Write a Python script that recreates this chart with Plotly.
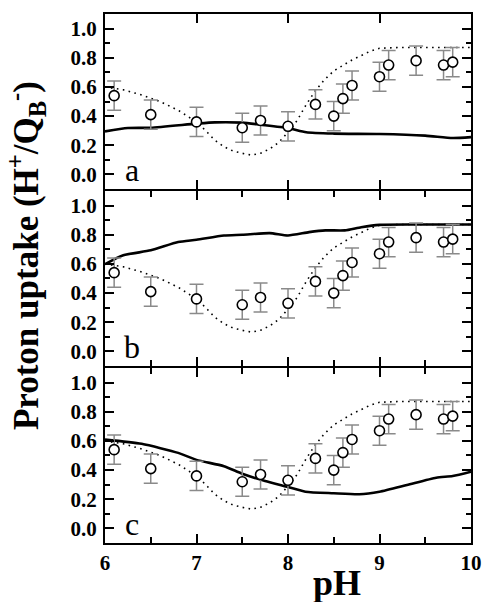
import plotly.graph_objects as go
from plotly.subplots import make_subplots

# Experimental data (same in all panels)
ph_exp = [6.1, 6.5, 7.0, 7.5, 7.7, 8.0, 8.3, 8.5, 8.6, 8.7, 9.0, 9.1, 9.4, 9.7, 9.8]
uptake_exp = [0.54, 0.41, 0.36, 0.32, 0.37, 0.33, 0.48, 0.40, 0.52, 0.61, 0.67, 0.75, 0.78, 0.75, 0.77]
uptake_err = [0.1] * len(ph_exp)

# Dotted curve (same in all panels)
ph_dot = [6.0, 6.2, 6.4, 6.6, 6.8, 7.0, 7.1, 7.2, 7.3, 7.4, 7.5, 7.6, 7.7, 7.8, 7.9,
          8.0, 8.1, 8.2, 8.3, 8.4, 8.5, 8.6, 8.7, 8.8, 8.9, 9.0, 9.2, 9.5, 10.0]
uptake_dot = [0.60, 0.58, 0.545, 0.50, 0.44, 0.36, 0.30, 0.235, 0.19, 0.16, 0.145, 0.132,
              0.145, 0.175, 0.22, 0.29, 0.37, 0.48, 0.575, 0.65, 0.71, 0.75, 0.785,
              0.815, 0.845, 0.865, 0.87, 0.87, 0.87]

# Solid curves
ph_a = [6.0, 6.25, 6.5, 7.0, 7.2, 7.5, 7.7, 8.0, 8.2, 8.5, 9.0, 9.5, 9.8, 10.0]
uptake_a = [0.295, 0.318, 0.32, 0.348, 0.357, 0.355, 0.341, 0.318, 0.289, 0.28, 0.277, 0.266, 0.25, 0.256]

ph_b = [6.0, 6.2, 6.5, 6.8, 7.0, 7.3, 7.5, 7.8, 8.0, 8.23, 8.41, 8.62, 8.8, 9.0, 9.5, 10.0]
uptake_b = [0.598, 0.659, 0.693, 0.75, 0.766, 0.795, 0.80, 0.811, 0.795, 0.818, 0.83, 0.83, 0.852, 0.868, 0.87, 0.87]

ph_c = [6.0, 6.4, 6.8, 7.0, 7.3, 7.5, 7.75, 8.0, 8.19, 8.5, 8.78, 9.0, 9.3, 9.62, 9.8, 10.0]
uptake_c = [0.609, 0.58, 0.518, 0.47, 0.427, 0.375, 0.325, 0.284, 0.252, 0.241, 0.234, 0.252, 0.298, 0.348, 0.359, 0.389]

panel_labels = ["a", "b", "c"]
solid_x = [ph_a, ph_b, ph_c]
solid_y = [uptake_a, uptake_b, uptake_c]

y_ticks = [0.0, 0.2, 0.4, 0.6, 0.8, 1.0]
y_ticktext = ["0.0", "0.2", "0.4", "0.6", "0.8", "1.0"]
x_ticks = [6, 7, 8, 9, 10]

SERIF = "Liberation Serif, Times New Roman, serif"

fig = make_subplots(rows=3, cols=1, shared_xaxes=True, vertical_spacing=2.0 / 530)

for i in range(3):
    r = i + 1
    fig.add_trace(go.Scatter(x=ph_dot, y=uptake_dot, mode="lines",
                             line=dict(color="black", width=1.6, dash="1.6px,4.4px"),
                             showlegend=False), row=r, col=1)
    fig.add_trace(go.Scatter(x=solid_x[i], y=solid_y[i], mode="lines",
                             line=dict(color="black", width=2.6, shape="spline", smoothing=0.6),
                             showlegend=False), row=r, col=1)
    fig.add_trace(go.Scatter(x=ph_exp, y=uptake_exp, mode="markers",
                             error_y=dict(type="data", array=uptake_err, color="#8a8a8a",
                                          thickness=1.5, width=7),
                             marker=dict(symbol="circle", size=10, color="white",
                                         line=dict(color="black", width=1.6)),
                             showlegend=False), row=r, col=1)
    fig.add_annotation(x=6.3, y=0.03, text=panel_labels[i], showarrow=False,
                       xref=f"x{'' if r == 1 else r}", yref=f"y{'' if r == 1 else r}",
                       font=dict(family=SERIF, size=32, color="black"),
                       xanchor="center", yanchor="middle")

axis_font = dict(family=SERIF, size=21, color="black", weight="bold")

for r in range(1, 4):
    fig.update_yaxes(range=[-0.1, 1.1], tickvals=y_ticks, ticktext=y_ticktext,
                     ticks="inside", ticklen=9, tickwidth=2, tickcolor="black",
                     minor=dict(ticks="inside", ticklen=5, tickwidth=2, dtick=0.1, tickcolor="black"),
                     showline=True, linewidth=2, linecolor="black", mirror="ticks",
                     showgrid=False, zeroline=False, tickfont=axis_font,
                     ticklabelstandoff=2, row=r, col=1)
    xminor = dict(ticks="inside", ticklen=6, tickwidth=2, dtick=0.5, tickcolor="black") if r > 1 else dict(ticks="")
    fig.update_xaxes(range=[6, 10], tickvals=x_ticks,
                     ticks="inside", ticklen=9, tickwidth=2, tickcolor="black",
                     minor=xminor,
                     showline=True, linewidth=2, linecolor="black", mirror="ticks",
                     showgrid=False, zeroline=False, tickfont=axis_font,
                     showticklabels=(r == 3), row=r, col=1)

fig.add_annotation(text="Proton uptake (H<sup>+</sup>/Q<sub>B</sub><sup>-</sup>)",
                   xref="paper", yref="paper", x=-0.215, y=0.543, textangle=-90,
                   showarrow=False, xanchor="center", yanchor="middle",
                   font=dict(family=SERIF, size=35, color="black", weight="bold"))
fig.add_annotation(text="pH", xref="paper", yref="paper", x=0.635, y=-0.075,
                   showarrow=False, xanchor="center", yanchor="middle",
                   font=dict(family=SERIF, size=36, color="black", weight="bold"))

fig.update_layout(width=494, height=602, margin=dict(l=105, r=15, t=13, b=59),
                  plot_bgcolor="white", paper_bgcolor="white",
                  font=dict(family=SERIF, color="black"))

fig.write_html("out.html")
